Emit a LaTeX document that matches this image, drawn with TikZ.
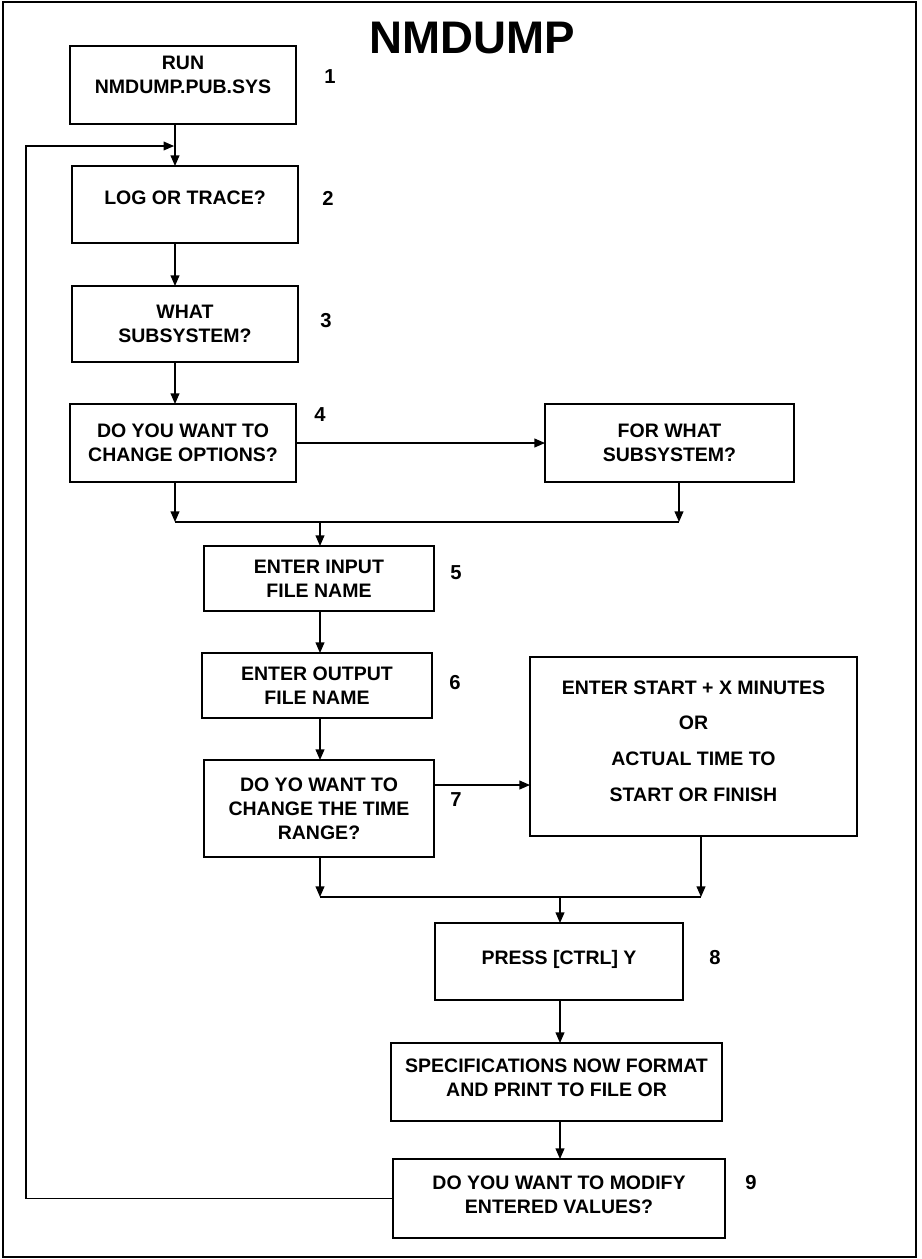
\documentclass[tikz,border=0pt]{standalone}
\usepackage{fontspec}
\setmainfont{Liberation Sans}
\usetikzlibrary{arrows.meta}

\begin{document}
\begin{tikzpicture}[x=0.02cm,y=-0.02cm,
    line width=0.7pt,
    arr/.style={-{Triangle[length=6pt,width=5pt]}},
    stepbox/.style={draw,rectangle,inner sep=0pt,outer sep=0pt,align=center,
        font=\bfseries\fontsize{11.1}{13.6}\selectfont},
    num/.style={font=\bfseries\fontsize{11.5}{13}\selectfont}]
\useasboundingbox (0,0) rectangle (921,1259);
\draw[line width=1.1pt] (3,2) rectangle (916,1257);
\node[font=\bfseries\fontsize{26}{30}\selectfont] (title) at (472,38) {NMDUMP};
%----------boxes-------------------------------
\node[stepbox,minimum width=4.52cm,minimum height=1.56cm] (run) at (183,85)
    {RUN\\NMDUMP.PUB.SYS\\[-2.3pt]};
\node[stepbox,minimum width=4.52cm,minimum height=1.54cm] (log) at (185,204.5)
    {LOG OR TRACE?\\[-6.2pt]};
\node[stepbox,minimum width=4.52cm,minimum height=1.52cm] (subsys) at (185,324)
    {WHAT\\SUBSYSTEM?};
\node[stepbox,minimum width=4.52cm,minimum height=1.56cm] (opts) at (183,443)
    {DO YOU WANT TO\\CHANGE OPTIONS?};
\node[stepbox,minimum width=4.98cm,minimum height=1.56cm] (forwhat) at (669.5,443)
    {FOR WHAT\\SUBSYSTEM?};
\node[stepbox,minimum width=4.6cm,minimum height=1.3cm] (infile) at (319,578.5)
    {ENTER INPUT\\FILE NAME};
\node[stepbox,minimum width=4.6cm,minimum height=1.3cm] (outfile) at (317,685.5)
    {ENTER OUTPUT\\FILE NAME};
\node[stepbox,minimum width=4.6cm,minimum height=1.94cm] (range) at (319,808.5)
    {DO YO WANT TO\\CHANGE THE TIME\\RANGE?};
\node[stepbox,minimum width=6.54cm,minimum height=3.58cm] (start) at (693.5,746.5)
    {ENTER START + X MINUTES\\[6.8pt]OR\\[6.8pt]ACTUAL TIME TO\\[6.8pt]START OR FINISH\\[-7.4pt]};
\node[stepbox,minimum width=4.96cm,minimum height=1.54cm] (press) at (559,961.5)
    {PRESS [CTRL] Y\\[-8.5pt]};
\node[stepbox,minimum width=6.62cm,minimum height=1.56cm] (spec) at (556.5,1082)
    {SPECIFICATIONS NOW FORMAT\\AND PRINT TO FILE OR\\[-8.5pt]};
\node[stepbox,minimum width=6.64cm,minimum height=1.58cm] (modify) at (559,1198.5)
    {DO YOU WANT TO MODIFY\\ENTERED VALUES?\\[-9.6pt]};
%----------step numbers------------------------
\node[num] (n1) at (330,77) {1};
\node[num] (n2) at (328,198) {2};
\node[num] (n3) at (326,321) {3};
\node[num] (n4) at (320,415) {4};
\node[num] (n5) at (456,573) {5};
\node[num] (n6) at (455,683) {6};
\node[num] (n7) at (456,800) {7};
\node[num] (n8) at (715,958) {8};
\node[num] (n9) at (751,1183) {9};
%----------helper coordinates------------------
\coordinate (trunk) at (175,0);
\coordinate (mid) at (320,0);
\coordinate (low) at (560,0);
\coordinate (back) at (26,146);
\coordinate (joinA) at (175,522);
\coordinate (joinB) at (679,522);
\coordinate (joinC) at (320,897);
\coordinate (joinD) at (701,897);
\coordinate (tr) at (0,785);
%----------connectors--------------------------
\draw[arr] (run.south -| trunk) -- (log.north -| trunk);
\draw[arr] (log.south -| trunk) -- (subsys.north -| trunk);
\draw[arr] (subsys.south -| trunk) -- (opts.north -| trunk);
\draw[arr] (opts.east) -- (forwhat.west);
\draw[arr] (opts.south -| trunk) -- (joinA);
\draw[arr] (forwhat.south -| joinB) -- (joinB);
\draw (joinA) -- (joinB);
\draw[arr] (joinA -| mid) -- (infile.north -| mid);
\draw[arr] (infile.south -| mid) -- (outfile.north -| mid);
\draw[arr] (outfile.south -| mid) -- (range.north -| mid);
\draw[arr] (range.east |- tr) -- (start.west |- tr);
\draw[arr] (range.south -| joinC) -- (joinC);
\draw[arr] (start.south -| joinD) -- (joinD);
\draw (joinC) -- (joinD);
\draw[arr] (joinC -| low) -- (press.north -| low);
\draw[arr] (press.south -| low) -- (spec.north -| low);
\draw[arr] (spec.south -| low) -- (modify.north -| low);
%----------loop back---------------------------
\draw[arr] (modify.west) -- (modify.west -| back) -- (back) -- ([xshift=-0.5pt]back -| trunk);
\end{tikzpicture}
\end{document}
